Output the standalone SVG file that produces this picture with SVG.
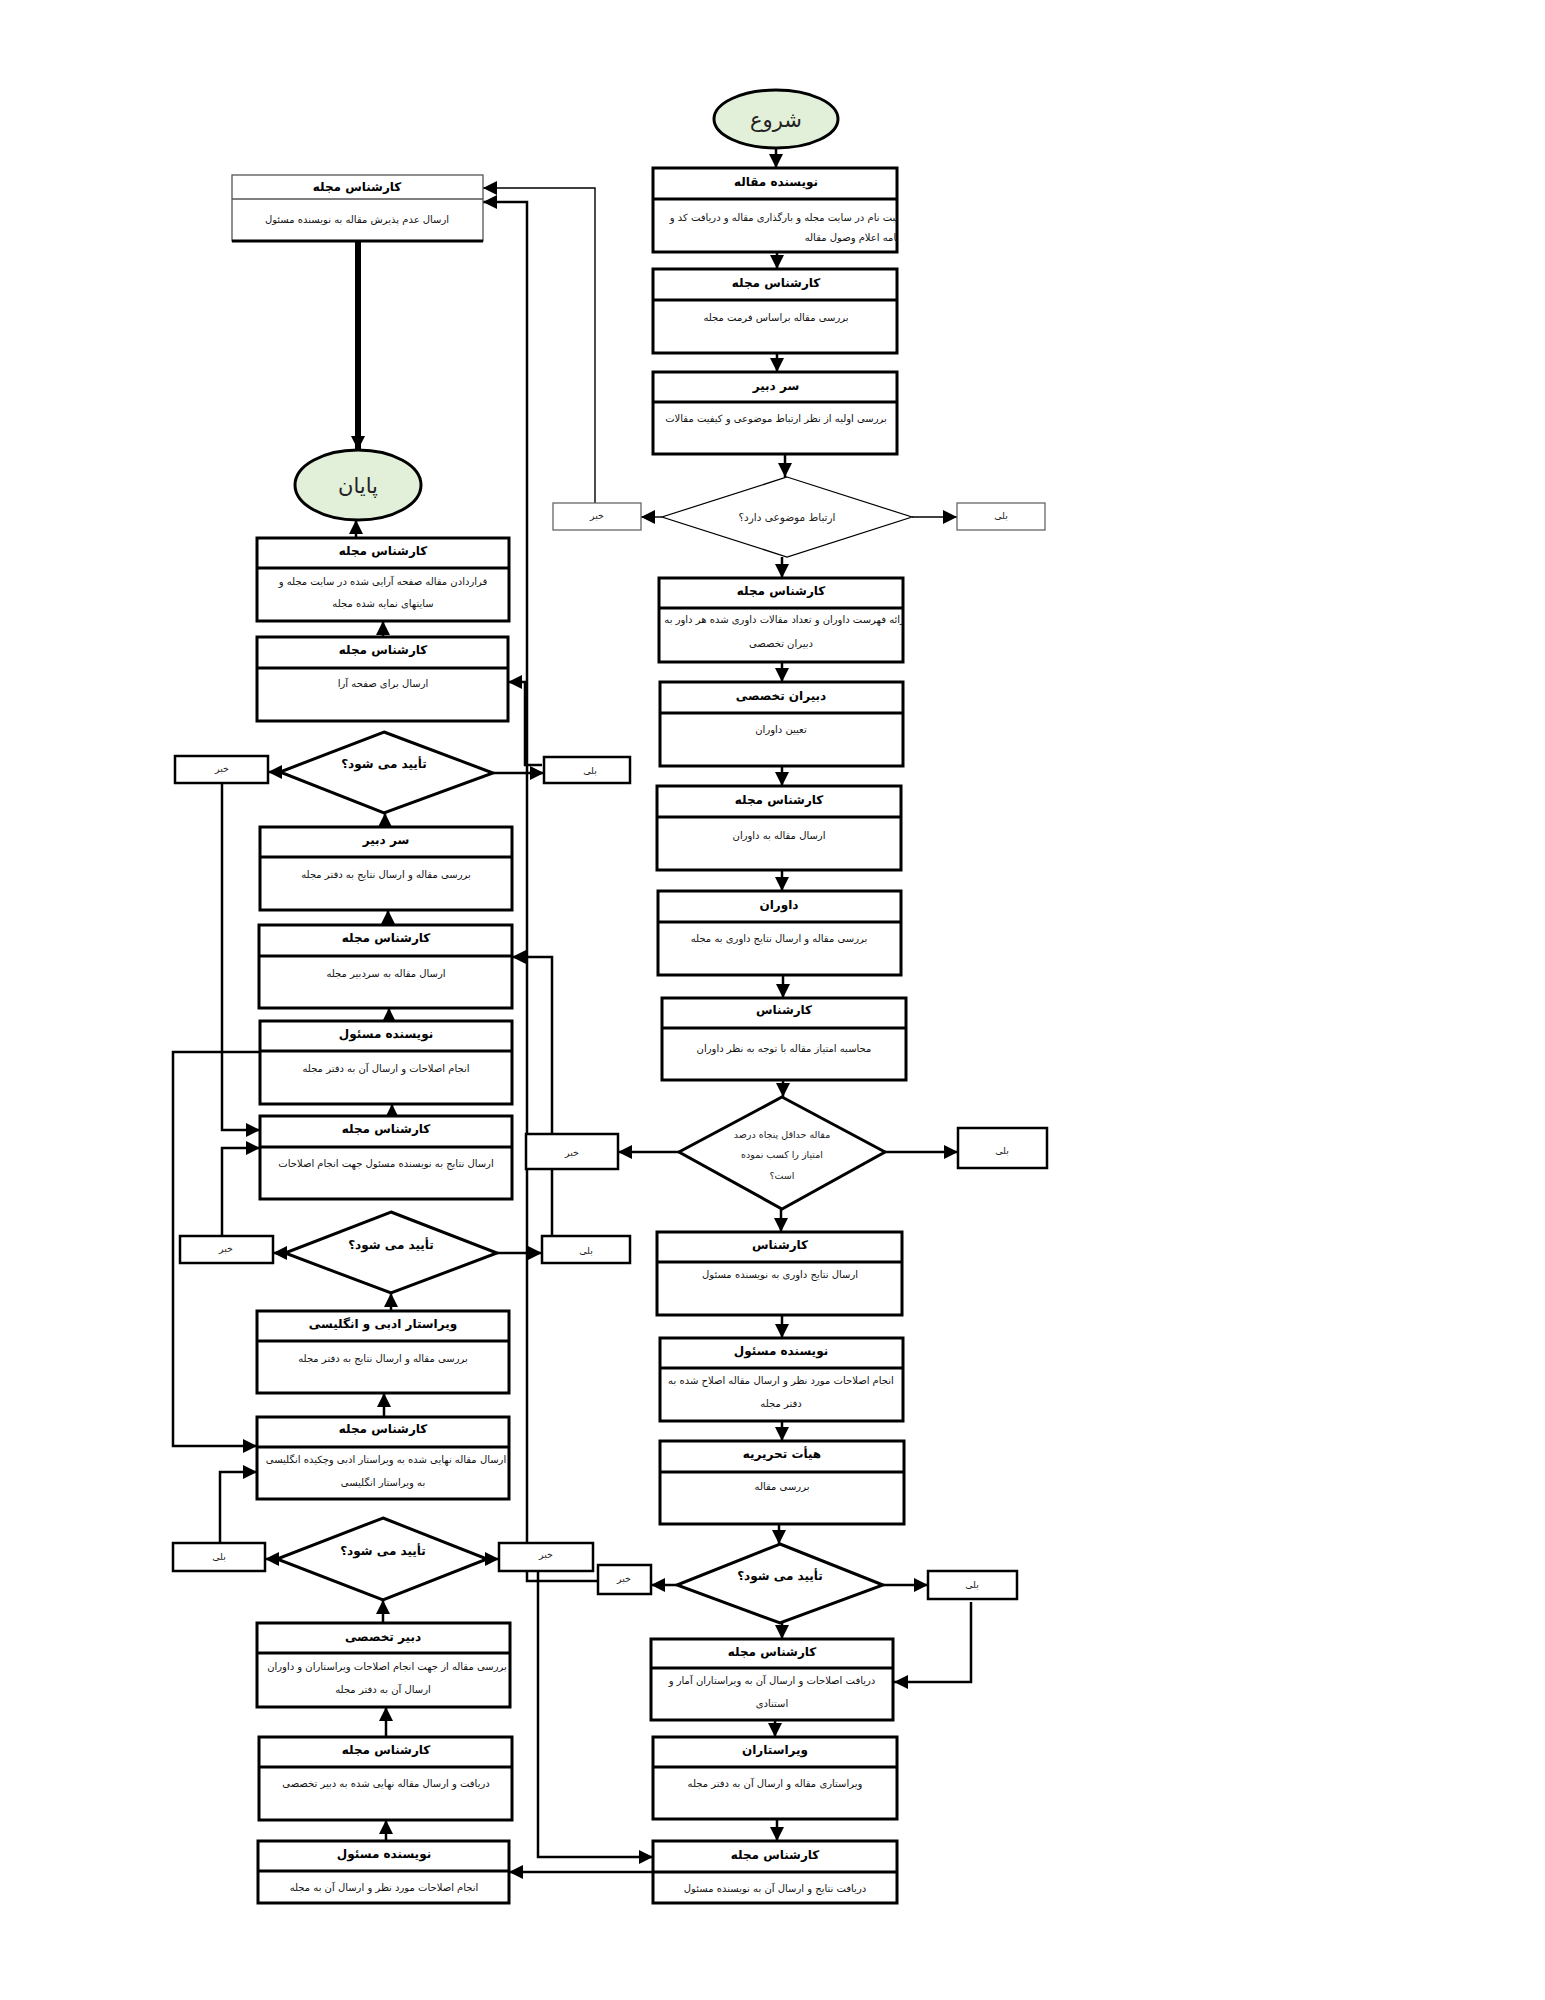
<svg xmlns="http://www.w3.org/2000/svg" width="1545" height="2000" viewBox="0 0 1545 2000">
<style>
.bx{fill:#fff;stroke:#000;stroke-width:3}
.bxt{fill:#fff;stroke:#555;stroke-width:1.3}
.dv{stroke:#000;stroke-width:3}
.dvt{stroke:#555;stroke-width:1.3}
.dm{fill:#fff;stroke:#000;stroke-width:3}
.dmt{fill:#fff;stroke:#000;stroke-width:1.2}
.sm{fill:#fff;stroke:#000;stroke-width:2.5}
.smt{fill:#fff;stroke:#666;stroke-width:1.3}
.h{font-family:"DejaVu Sans",sans-serif;font-size:12px;font-weight:bold;text-anchor:middle;fill:#000}
.t{font-family:"DejaVu Sans",sans-serif;font-size:10px;text-anchor:middle;fill:#111}
.s{font-family:"DejaVu Sans",sans-serif;font-size:9.5px;text-anchor:middle;fill:#222}
.p{font-family:"DejaVu Sans",sans-serif;font-size:10.5px;text-anchor:middle;fill:#222}
.q{font-family:"DejaVu Sans",sans-serif;font-size:12px;font-weight:bold;text-anchor:middle;fill:#000}
.el{fill:#e2efd9;stroke:#000;stroke-width:3}
.et{font-family:"DejaVu Sans",sans-serif;font-size:21px;text-anchor:middle;fill:#222}
.c{fill:none;stroke:#000;stroke-width:2.5}
.ct{fill:none;stroke:#000;stroke-width:1.4}
</style>
<defs>
<marker id="a" markerUnits="userSpaceOnUse" markerWidth="14" markerHeight="14" refX="14" refY="7" orient="auto"><path d="M0,0 L14,7 L0,14 z" fill="#000"/></marker>
<clipPath id="cR1"><rect x="653" y="199" width="244" height="53"/></clipPath>
<clipPath id="cR4"><rect x="659" y="608" width="244" height="54"/></clipPath>
<clipPath id="cL8"><rect x="257" y="1447" width="252" height="52"/></clipPath>
<clipPath id="cL9"><rect x="257" y="1653" width="253" height="54"/></clipPath>
</defs>

<g id="connectors">
<line class="c" x1="776" y1="148" x2="776" y2="168" marker-end="url(#a)"/>
<line class="c" x1="777" y1="252" x2="777" y2="269" marker-end="url(#a)"/>
<line class="c" x1="777" y1="353" x2="777" y2="372" marker-end="url(#a)"/>
<line class="c" x1="785" y1="454" x2="785" y2="477" marker-end="url(#a)"/>
<line class="ct" x1="662" y1="517" x2="641" y2="517" marker-end="url(#a)"/>
<line class="ct" x1="912" y1="517" x2="957" y2="517" marker-end="url(#a)"/>
<line class="c" x1="782" y1="557" x2="782" y2="578" marker-end="url(#a)"/>
<line class="c" x1="782" y1="662" x2="782" y2="682" marker-end="url(#a)"/>
<line class="c" x1="782" y1="766" x2="782" y2="786" marker-end="url(#a)"/>
<line class="c" x1="782" y1="870" x2="782" y2="891" marker-end="url(#a)"/>
<line class="c" x1="783" y1="975" x2="783" y2="998" marker-end="url(#a)"/>
<line class="c" x1="783" y1="1080" x2="783" y2="1097" marker-end="url(#a)"/>
<line class="c" x1="679" y1="1152" x2="618" y2="1152" marker-end="url(#a)"/>
<line class="c" x1="885" y1="1152" x2="958" y2="1152" marker-end="url(#a)"/>
<line class="c" x1="781" y1="1209" x2="781" y2="1232" marker-end="url(#a)"/>
<line class="c" x1="782" y1="1315" x2="782" y2="1338" marker-end="url(#a)"/>
<line class="c" x1="782" y1="1421" x2="782" y2="1441" marker-end="url(#a)"/>
<line class="c" x1="779" y1="1524" x2="779" y2="1544" marker-end="url(#a)"/>
<line class="c" x1="677" y1="1585" x2="651" y2="1585" marker-end="url(#a)"/>
<line class="c" x1="883" y1="1585" x2="928" y2="1585" marker-end="url(#a)"/>
<line class="c" x1="782" y1="1623" x2="782" y2="1639" marker-end="url(#a)"/>
<polyline class="c" points="971,1602 971,1682 894,1682" marker-end="url(#a)"/>
<line class="c" x1="775" y1="1720" x2="775" y2="1737" marker-end="url(#a)"/>
<line class="c" x1="777" y1="1819" x2="777" y2="1841" marker-end="url(#a)"/>
<line class="c" x1="653" y1="1872" x2="509" y2="1872" marker-end="url(#a)"/>
<polyline class="c" points="598,1581 527,1581 527,202 483,202" marker-end="url(#a)"/>
<polyline class="ct" points="595,503 595,188 483,188" marker-end="url(#a)"/>
<line fill="none" stroke="#000" stroke-width="6" x1="358" y1="241" x2="358" y2="450" marker-end="url(#a)"/>
<line class="c" x1="356" y1="538" x2="356" y2="520" marker-end="url(#a)"/>
<line class="c" x1="383" y1="637" x2="383" y2="621" marker-end="url(#a)"/>
<line class="c" x1="493" y1="773" x2="544" y2="773" marker-end="url(#a)"/>
<polyline class="c" points="542,765 525,765 525,682 508,682" marker-end="url(#a)"/>
<line class="c" x1="280" y1="772" x2="268" y2="772" marker-end="url(#a)"/>
<polyline class="c" points="222,783 222,1130 260,1130" marker-end="url(#a)"/>
<line class="c" x1="385" y1="827" x2="385" y2="813" marker-end="url(#a)"/>
<line class="c" x1="388" y1="925" x2="388" y2="910" marker-end="url(#a)"/>
<polyline class="c" points="552,1236 552,957 512,957" marker-end="url(#a)"/>
<line class="c" x1="389" y1="1021" x2="389" y2="1008" marker-end="url(#a)"/>
<polyline class="c" points="260,1052 173,1052 173,1446 257,1446" marker-end="url(#a)"/>
<line class="c" x1="392" y1="1116" x2="392" y2="1104" marker-end="url(#a)"/>
<polyline class="c" points="222,1236 222,1148 260,1148" marker-end="url(#a)"/>
<line class="c" x1="285" y1="1253" x2="273" y2="1253" marker-end="url(#a)"/>
<line class="c" x1="497" y1="1253" x2="542" y2="1253" marker-end="url(#a)"/>
<line class="c" x1="391" y1="1311" x2="391" y2="1293" marker-end="url(#a)"/>
<line class="c" x1="384" y1="1417" x2="384" y2="1393" marker-end="url(#a)"/>
<polyline class="c" points="220,1543 220,1472 257,1472" marker-end="url(#a)"/>
<line class="c" x1="277" y1="1559" x2="265" y2="1559" marker-end="url(#a)"/>
<line class="c" x1="487" y1="1559" x2="499" y2="1559" marker-end="url(#a)"/>
<polyline class="c" points="538,1571 538,1857 653,1857" marker-end="url(#a)"/>
<line class="c" x1="383" y1="1623" x2="383" y2="1600" marker-end="url(#a)"/>
<line class="c" x1="386" y1="1737" x2="386" y2="1707" marker-end="url(#a)"/>
<line class="c" x1="386" y1="1841" x2="386" y2="1820" marker-end="url(#a)"/>
</g>

<g id="start"><ellipse class="el" cx="776" cy="119" rx="62" ry="29"/><text class="et" x="776" y="127" direction="rtl">شروع</text></g>

<g id="R1"><rect class="bx" x="653" y="168" width="244" height="84"/><line class="dv" x1="653" y1="199" x2="897" y2="199"/><text class="h" x="776" y="186" direction="rtl">نویسنده مقاله</text>
<g clip-path="url(#cR1)"><text class="t" x="784" y="221" direction="rtl">ثبت نام در سایت مجله و بارگذاری مقاله و دریافت کد و</text><text class="t" x="852" y="241" direction="rtl">نامه اعلام وصول مقاله</text></g></g>
<g id="R2"><rect class="bx" x="653" y="269" width="244" height="84"/><line class="dv" x1="653" y1="300" x2="897" y2="300"/><text class="h" x="776" y="287" direction="rtl">کارشناس مجله</text><text class="t" x="776" y="321" direction="rtl">بررسی مقاله براساس فرمت مجله</text></g>
<g id="R3"><rect class="bx" x="653" y="372" width="244" height="82"/><line class="dv" x1="653" y1="402" x2="897" y2="402"/><text class="h" x="776" y="390" direction="rtl">سر دبیر</text><text class="t" x="776" y="422" direction="rtl">بررسی اولیه از نظر ارتباط موضوعی و کیفیت مقالات</text></g>
<g id="D1"><polygon class="dmt" points="787,477 912,517 787,557 662,517"/><text class="p" x="787" y="521" direction="rtl">ارتباط موضوعی دارد؟</text></g>
<g id="D1no"><rect class="smt" x="553" y="503" width="88" height="27"/><text class="s" x="597" y="519" direction="rtl">خبر</text></g>
<g id="D1yes"><rect class="smt" x="957" y="503" width="88" height="27"/><text class="s" x="1001" y="519" direction="rtl">بلی</text></g>
<g id="R4"><rect class="bx" x="659" y="578" width="244" height="84"/><line class="dv" x1="659" y1="608" x2="903" y2="608"/><text class="h" x="781" y="595" direction="rtl">کارشناس مجله</text>
<g clip-path="url(#cR4)"><text class="t" x="786" y="623" direction="rtl">ارائه فهرست داوران و تعداد مقالات داوری شده هر داور به</text><text class="t" x="781" y="647" direction="rtl">دبیران تخصصی</text></g></g>
<g id="R5"><rect class="bx" x="660" y="682" width="243" height="84"/><line class="dv" x1="660" y1="713" x2="903" y2="713"/><text class="h" x="781" y="700" direction="rtl">دبیران تخصصی</text><text class="t" x="781" y="733" direction="rtl">تعیین داوران</text></g>
<g id="R6"><rect class="bx" x="657" y="786" width="244" height="84"/><line class="dv" x1="657" y1="817" x2="901" y2="817"/><text class="h" x="779" y="804" direction="rtl">کارشناس مجله</text><text class="t" x="779" y="839" direction="rtl">ارسال مقاله به داوران</text></g>
<g id="R7"><rect class="bx" x="658" y="891" width="243" height="84"/><line class="dv" x1="658" y1="922" x2="901" y2="922"/><text class="h" x="779" y="909" direction="rtl">داوران</text><text class="t" x="779" y="942" direction="rtl">بررسی مقاله و ارسال نتایج داوری به مجله</text></g>
<g id="R8"><rect class="bx" x="662" y="998" width="244" height="82"/><line class="dv" x1="662" y1="1028" x2="906" y2="1028"/><text class="h" x="784" y="1014" direction="rtl">کارشناس</text><text class="t" x="784" y="1052" direction="rtl">محاسبه امتیاز مقاله با توجه به نظر داوران</text></g>
<g id="D2"><polygon class="dm" points="782,1097 885,1152 782,1209 679,1152"/><text class="s" x="782" y="1138" direction="rtl">مقاله حداقل پنجاه درصد</text><text class="s" x="782" y="1158" direction="rtl">امتیاز را کسب نموده</text><text class="s" x="782" y="1179" direction="rtl">است؟</text></g>
<g id="D2no"><rect class="sm" x="526" y="1134" width="92" height="35"/><text class="s" x="572" y="1156" direction="rtl">خبر</text></g>
<g id="D2yes"><rect class="sm" x="958" y="1128" width="89" height="40"/><text class="s" x="1002" y="1154" direction="rtl">بلی</text></g>
<g id="R9"><rect class="bx" x="657" y="1232" width="245" height="83"/><line class="dv" x1="657" y1="1262" x2="902" y2="1262"/><text class="h" x="780" y="1249" direction="rtl">کارشناس</text><text class="t" x="780" y="1278" direction="rtl">ارسال نتایج داوری به نویسنده مسئول</text></g>
<g id="R10"><rect class="bx" x="660" y="1338" width="243" height="83"/><line class="dv" x1="660" y1="1368" x2="903" y2="1368"/><text class="h" x="781" y="1355" direction="rtl">نویسنده مسئول</text><text class="t" x="781" y="1384" direction="rtl">انجام اصلاحات مورد نظر و ارسال مقاله اصلاح شده به</text><text class="t" x="781" y="1407" direction="rtl">دفتر مجله</text></g>
<g id="R11"><rect class="bx" x="660" y="1441" width="244" height="83"/><line class="dv" x1="660" y1="1472" x2="904" y2="1472"/><text class="h" x="782" y="1458" direction="rtl">هیأت تحریریه</text><text class="t" x="782" y="1490" direction="rtl">بررسی مقاله</text></g>
<g id="D3"><polygon class="dm" points="780,1544 883,1585 780,1623 677,1585"/><text class="q" x="780" y="1580" direction="rtl">تأیید می شود؟</text></g>
<g id="D3no"><rect class="sm" x="598" y="1565" width="53" height="29"/><text class="s" x="624" y="1582" direction="rtl">خبر</text></g>
<g id="D3yes"><rect class="sm" x="928" y="1571" width="89" height="28"/><text class="s" x="972" y="1588" direction="rtl">بلی</text></g>
<g id="R12"><rect class="bx" x="651" y="1639" width="242" height="81"/><line class="dv" x1="651" y1="1668" x2="893" y2="1668"/><text class="h" x="772" y="1656" direction="rtl">کارشناس مجله</text><text class="t" x="772" y="1684" direction="rtl">دریافت اصلاحات و ارسال آن به ویراستاران آمار و</text><text class="t" x="772" y="1707" direction="rtl">استنادی</text></g>
<g id="R13"><rect class="bx" x="653" y="1737" width="244" height="82"/><line class="dv" x1="653" y1="1767" x2="897" y2="1767"/><text class="h" x="775" y="1754" direction="rtl">ویراستاران</text><text class="t" x="775" y="1787" direction="rtl">ویراستاری مقاله و ارسال آن به دفتر مجله</text></g>
<g id="R14"><rect class="bx" x="653" y="1841" width="244" height="62"/><line class="dv" x1="653" y1="1872" x2="897" y2="1872"/><text class="h" x="775" y="1859" direction="rtl">کارشناس مجله</text><text class="t" x="775" y="1892" direction="rtl">دریافت نتایج و ارسال آن به نویسنده مسئول</text></g>

<g id="L0"><rect class="bxt" x="232" y="175" width="251" height="66"/><line class="dvt" x1="232" y1="199" x2="483" y2="199"/><line class="dv" x1="232" y1="241" x2="483" y2="241"/><text class="h" x="357" y="191" direction="rtl">کارشناس مجله</text><text class="t" x="357" y="223" direction="rtl">ارسال عدم پذیرش مقاله به نویسنده مسئول</text></g>
<g id="end"><ellipse class="el" cx="358" cy="485" rx="63" ry="35"/><text class="et" x="358" y="493" direction="rtl">پایان</text></g>
<g id="L1"><rect class="bx" x="257" y="538" width="252" height="83"/><line class="dv" x1="257" y1="568" x2="509" y2="568"/><text class="h" x="383" y="555" direction="rtl">کارشناس مجله</text><text class="t" x="383" y="585" direction="rtl">قراردادن مقاله صفحه آرایی شده در سایت مجله و</text><text class="t" x="383" y="607" direction="rtl">سایتهای نمایه شده مجله</text></g>
<g id="L2"><rect class="bx" x="257" y="637" width="251" height="84"/><line class="dv" x1="257" y1="668" x2="508" y2="668"/><text class="h" x="383" y="654" direction="rtl">کارشناس مجله</text><text class="t" x="383" y="687" direction="rtl">ارسال برای صفحه آرا</text></g>
<g id="LD1"><polygon class="dm" points="384,732 493,773 384,813 280,772"/><text class="q" x="384" y="768" direction="rtl">تأیید می شود؟</text></g>
<g id="LD1no"><rect class="sm" x="175" y="756" width="93" height="27"/><text class="s" x="222" y="772" direction="rtl">خبر</text></g>
<g id="LD1yes"><rect class="sm" x="544" y="757" width="86" height="26"/><text class="s" x="590" y="774" direction="rtl">بلی</text></g>
<g id="L3"><rect class="bx" x="260" y="827" width="252" height="83"/><line class="dv" x1="260" y1="857" x2="512" y2="857"/><text class="h" x="386" y="844" direction="rtl">سر دبیر</text><text class="t" x="386" y="878" direction="rtl">بررسی مقاله و ارسال نتایج به دفتر مجله</text></g>
<g id="L4"><rect class="bx" x="259" y="925" width="253" height="83"/><line class="dv" x1="259" y1="956" x2="512" y2="956"/><text class="h" x="386" y="942" direction="rtl">کارشناس مجله</text><text class="t" x="386" y="977" direction="rtl">ارسال مقاله به سردبیر مجله</text></g>
<g id="L5"><rect class="bx" x="260" y="1021" width="252" height="83"/><line class="dv" x1="260" y1="1051" x2="512" y2="1051"/><text class="h" x="386" y="1038" direction="rtl">نویسنده مسئول</text><text class="t" x="386" y="1072" direction="rtl">انجام اصلاحات و ارسال آن به دفتر مجله</text></g>
<g id="L6"><rect class="bx" x="260" y="1116" width="252" height="83"/><line class="dv" x1="260" y1="1147" x2="512" y2="1147"/><text class="h" x="386" y="1133" direction="rtl">کارشناس مجله</text><text class="t" x="386" y="1167" direction="rtl">ارسال نتایج به نویسنده مسئول جهت انجام اصلاحات</text></g>
<g id="LD2"><polygon class="dm" points="391,1212 497,1253 391,1293 285,1253"/><text class="q" x="391" y="1249" direction="rtl">تأیید می شود؟</text></g>
<g id="LD2no"><rect class="sm" x="180" y="1236" width="93" height="27"/><text class="s" x="226" y="1252" direction="rtl">خبر</text></g>
<g id="LD2yes"><rect class="sm" x="542" y="1236" width="88" height="27"/><text class="s" x="586" y="1254" direction="rtl">بلی</text></g>
<g id="L7"><rect class="bx" x="257" y="1311" width="252" height="82"/><line class="dv" x1="257" y1="1341" x2="509" y2="1341"/><text class="h" x="383" y="1328" direction="rtl">ویراستار ادبی و انگلیسی</text><text class="t" x="383" y="1362" direction="rtl">بررسی مقاله و ارسال نتایج به دفتر مجله</text></g>
<g id="L8"><rect class="bx" x="257" y="1417" width="252" height="82"/><line class="dv" x1="257" y1="1447" x2="509" y2="1447"/><text class="h" x="383" y="1433" direction="rtl">کارشناس مجله</text>
<g clip-path="url(#cL8)"><text class="t" x="386" y="1463" direction="rtl">ارسال مقاله نهایی شده به ویراستار ادبی وچکیده انگلیسی</text><text class="t" x="383" y="1486" direction="rtl">به ویراستار انگلیسی</text></g></g>
<g id="LD3"><polygon class="dm" points="383,1518 487,1559 383,1600 277,1559"/><text class="q" x="383" y="1555" direction="rtl">تأیید می شود؟</text></g>
<g id="LD3yes"><rect class="sm" x="173" y="1543" width="92" height="28"/><text class="s" x="219" y="1560" direction="rtl">بلی</text></g>
<g id="LD3no"><rect class="sm" x="499" y="1543" width="94" height="28"/><text class="s" x="546" y="1558" direction="rtl">خبر</text></g>
<g id="L9"><rect class="bx" x="257" y="1623" width="253" height="84"/><line class="dv" x1="257" y1="1653" x2="510" y2="1653"/><text class="h" x="383" y="1641" direction="rtl">دبیر تخصصی</text>
<g clip-path="url(#cL9)"><text class="t" x="387" y="1670" direction="rtl">بررسی مقاله از جهت انجام اصلاحات ویراستاران و داوران</text><text class="t" x="383" y="1693" direction="rtl">ارسال آن به دفتر مجله</text></g></g>
<g id="L10"><rect class="bx" x="259" y="1737" width="253" height="83"/><line class="dv" x1="259" y1="1767" x2="512" y2="1767"/><text class="h" x="386" y="1754" direction="rtl">کارشناس مجله</text><text class="t" x="386" y="1787" direction="rtl">دریافت و ارسال مقاله نهایی شده به دبیر تخصصی</text></g>
<g id="L11"><rect class="bx" x="258" y="1841" width="251" height="62"/><line class="dv" x1="258" y1="1871" x2="509" y2="1871"/><text class="h" x="384" y="1858" direction="rtl">نویسنده مسئول</text><text class="t" x="384" y="1891" direction="rtl">انجام اصلاحات مورد نظر و ارسال آن به مجله</text></g>
</svg>
